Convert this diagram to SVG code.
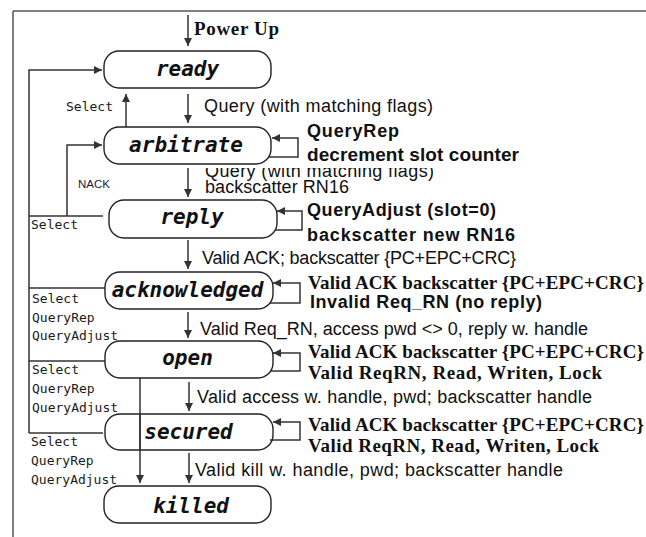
<svg xmlns="http://www.w3.org/2000/svg" width="646" height="537" viewBox="0 0 646 537">
<style>
.box{fill:#fff;stroke:#222;stroke-width:1.4}
.st{font-family:"DejaVu Sans Mono","Liberation Mono",monospace;font-weight:bold;font-style:italic;font-size:21px;fill:#111;text-anchor:middle}
.ln{fill:none;stroke:#333;stroke-width:1.5}
.lbl{font-family:"Liberation Sans",Arial,sans-serif;font-size:18px;fill:#111}
.lb{font-family:"Liberation Sans",Arial,sans-serif;font-weight:bold;font-size:18px;fill:#111}
.ls{font-family:"Liberation Serif","Times New Roman",serif;font-weight:bold;font-size:19px;fill:#111}
.mono{font-family:"DejaVu Sans Mono","Liberation Mono",monospace;font-size:13px;fill:#1a1a1a}
.frame{stroke:#555;stroke-width:1.5;fill:none}
</style>
<defs>
<marker id="ah" viewBox="0 0 10 10" refX="10" refY="5" markerUnits="userSpaceOnUse" markerWidth="10" markerHeight="8" orient="auto">
<path d="M0,0 L10,5 L0,10 z" fill="#333"/>
</marker>
<clipPath id="clipq"><rect x="190" y="168" width="300" height="20"/></clipPath>
</defs>
<rect width="646" height="537" fill="#fff"/>
<g id="frame">
<path class="frame" d="M13 11 H646 M13 11 V537"/>
</g>
<g id="connectors">
<path class="ln" d="M188 15 V46" marker-end="url(#ah)"/>
<path class="ln" d="M188 94 V123" marker-end="url(#ah)"/>
<path class="ln" d="M126 127 V94" marker-end="url(#ah)"/>
<path class="ln" d="M188 168 V197" marker-end="url(#ah)"/>
<path class="ln" d="M188 240 V269" marker-end="url(#ah)"/>
<path class="ln" d="M188 312 V338" marker-end="url(#ah)"/>
<path class="ln" d="M189 382 V411" marker-end="url(#ah)"/>
<path class="ln" d="M189 453 V483" marker-end="url(#ah)"/>
<path class="ln" d="M140 378 V483" marker-end="url(#ah)"/>
<path class="ln" d="M29 433 V70 H102" marker-end="url(#ah)"/>
<path class="ln" d="M29 216 H103"/>
<path class="ln" d="M67 216 V145 H102" marker-end="url(#ah)"/>
<path class="ln" d="M29 288 H105"/>
<path class="ln" d="M29 361 H105"/>
<path class="ln" d="M29 433 H103"/>
<path class="ln" d="M269 157 H298 V138 H272" marker-end="url(#ah)"/>
<path class="ln" d="M274 230 H302 V211 H277" marker-end="url(#ah)"/>
<path class="ln" d="M270 303 H300 V283 H273" marker-end="url(#ah)"/>
<path class="ln" d="M270 371 H300 V353 H273" marker-end="url(#ah)"/>
<path class="ln" d="M270 440 H300 V422 H273" marker-end="url(#ah)"/>
</g>
<g id="node-ready">
<rect class="box" x="104" y="51" width="167" height="37" rx="15"/>
<text class="st" x="187.5" y="76">ready</text>
</g>
<g id="node-arbitrate">
<rect class="box" x="104" y="127" width="167" height="37" rx="15"/>
<text class="st" x="186" y="152">arbitrate</text>
</g>
<g id="node-reply">
<rect class="box" x="109" y="200" width="168" height="38" rx="15"/>
<text class="st" x="192" y="224">reply</text>
</g>
<g id="node-acknowledged">
<rect class="box" x="105" y="272" width="168" height="37" rx="15"/>
<text class="st" x="187.5" y="297">acknowledged</text>
</g>
<g id="node-open">
<rect class="box" x="105" y="341" width="168" height="37" rx="15"/>
<text class="st" x="187.5" y="365">open</text>
</g>
<g id="node-secured">
<rect class="box" x="105" y="414" width="168" height="36" rx="15" style="fill:none"/>
<text class="st" x="188.5" y="439">secured</text>
</g>
<g id="node-killed">
<rect class="box" x="104" y="486" width="167" height="37" rx="15"/>
<text class="st" x="191" y="513">killed</text>
</g>
<path class="ln" d="M140 414 V450"/>
<g id="labels">
<text class="ls" x="194" y="35" textLength="85">Power Up</text>
<text class="lbl" x="204" y="112" textLength="229">Query (with matching flags)</text>
<text class="lb" x="307" y="137" textLength="92">QueryRep</text>
<text class="lb" x="307" y="161" textLength="212" style="font-size:19px">decrement slot counter</text>
<text class="lbl" x="205" y="177" textLength="229" clip-path="url(#clipq)">Query (with matching flags)</text>
<text class="lbl" x="205" y="193" textLength="144">backscatter RN16</text>
<text class="lb" x="307" y="216" textLength="189">QueryAdjust (slot=0)</text>
<text class="lb" x="307" y="241" textLength="208">backscatter new RN16</text>
<text class="lbl" x="202" y="264" textLength="314">Valid ACK; backscatter {PC+EPC+CRC}</text>
<text class="ls" x="308" y="289" textLength="336">Valid ACK backscatter {PC+EPC+CRC}</text>
<text class="lb" x="310" y="308" textLength="232">Invalid Req_RN (no reply)</text>
<text class="lbl" x="200" y="335" textLength="388">Valid Req_RN, access pwd &lt;&gt; 0, reply w. handle</text>
<text class="ls" x="308" y="358" textLength="336">Valid ACK backscatter {PC+EPC+CRC}</text>
<text class="ls" x="308" y="379" textLength="294">Valid ReqRN, Read, Writen, Lock</text>
<text class="lbl" x="197" y="403" textLength="395">Valid access w. handle, pwd; backscatter handle</text>
<text class="ls" x="308" y="431" textLength="336">Valid ACK backscatter {PC+EPC+CRC}</text>
<text class="ls" x="308" y="452" textLength="291">Valid ReqRN, Read, Writen, Lock</text>
<text class="lbl" x="195" y="476" textLength="368">Valid kill w. handle, pwd; backscatter handle</text>
<text class="mono" x="66" y="111">Select</text>
<text x="78" y="188" style="font-family:'Liberation Sans',Arial,sans-serif;font-size:11.5px;fill:#1a1a3a">NACK</text>
<text class="mono" x="31" y="229">Select</text>
<text class="mono" x="32" y="303">Select</text>
<text class="mono" x="32" y="322">QueryRep</text>
<text class="mono" x="32" y="340">QueryAdjust</text>
<text class="mono" x="32" y="374">Select</text>
<text class="mono" x="32" y="393">QueryRep</text>
<text class="mono" x="32" y="412">QueryAdjust</text>
<text class="mono" x="31" y="446">Select</text>
<text class="mono" x="31" y="465">QueryRep</text>
<text class="mono" x="31" y="484">QueryAdjust</text>
</g>
</svg>
